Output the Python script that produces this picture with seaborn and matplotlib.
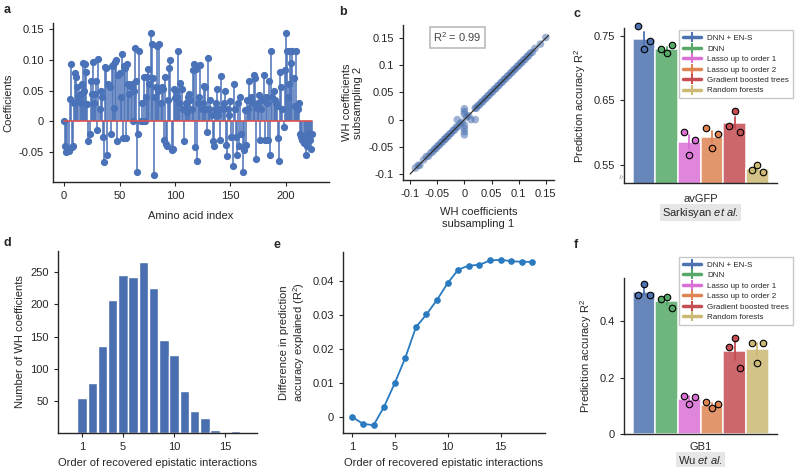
import matplotlib
matplotlib.use("Agg")
import matplotlib.pyplot as plt
from matplotlib.lines import Line2D
import numpy as np
import pandas as pd
import seaborn as sns

# ---------------- data ----------------
# a: first-order WH coefficients per amino acid
aa_index = list(range(0, 225))
coef = [
    0, -0.04, -0.05, -0.045, -0.048, 0.037, 0.093, -0.042, -0.041, 0.03,
    0.078, 0.072, 0.055, 0.04, 0.045, 0.03, 0.06, 0.095, 0.05, 0.094,
    0.08, 0.028, -0.033, -0.02, 0.065, 0.045, 0.097, 0.03, 0.045, 0.065,
    -0.014, 0.101, 0.02, 0.05, 0.04, -0.025, -0.067, 0.088, 0.086, -0.055,
    0.06, 0.055, -0.02, 0.09, 0.092, 0.022, 0.097, 0.1, -0.033, 0.075,
    0.078, 0.04, 0.11, -0.027, 0.09, 0.087, -0.028, 0.093, 0.06, 0.045,
    0.055, 0.06, 0, 0.05, 0.12, 0.065, -0.082, -0.02, 0.115, 0,
    0.03, 0, 0.072, 0, 0.04, 0.072, 0.085, 0.06, 0.143, 0.125,
    0.07, -0.087, 0.04, 0.055, 0.122, 0.05, 0.125, 0.03, 0.055, 0.053,
    -0.03, 0.072, -0.037, -0.04, 0.035, 0.087, 0.1, -0.047, -0.045, 0.053,
    0.038, 0.05, 0.04, 0.115, 0.03, 0.063, 0.052, 0.02, -0.033, 0.02,
    0.03, 0.015, 0.04, 0.045, 0.035, 0.02, 0.083, 0.094, -0.042, 0.085,
    -0.065, 0.03, 0.04, 0.092, 0.02, 0.03, 0.058, 0.055, 0.02, -0.017,
    0.103, 0.02, 0.035, 0.01, -0.033, -0.04, 0.02, 0.03, 0.053, 0.01,
    0.02, -0.03, 0.073, 0.02, 0.03, 0.05, -0.038, -0.057, 0.02, 0.01,
    0.033, -0.025, -0.073, 0.06, 0.02, -0.025, -0.055, 0.03, -0.04, 0.04,
    -0.02, -0.083, -0.047, 0.018, -0.038, 0.035, 0.02, 0.065, 0.035, 0.04,
    0.03, 0.075, 0.07, -0.062, 0.022, 0.03, 0.043, -0.03, 0.02, 0.035,
    0.075, -0.03, 0.04, 0.03, -0.03, 0.065, -0.055, 0.115, 0.04, 0.05,
    0.035, 0.03, 0.025, -0.028, -0.065, 0.08, 0.055, 0.02, -0.01, 0.083,
    0.143, 0.115, 0.04, 0.06, 0.115, 0.095, 0.115, 0.07, 0.025, 0.115,
    0.025, 0.02, 0.03, -0.02, -0.025, -0.03, -0.035, -0.03, -0.055, -0.04,
    -0.02, -0.025, -0.03, -0.045, -0.02,
]

# b: WH coefficients from two subsamplings
wh_sub1 = [-0.09, -0.085, -0.082, -0.075, -0.07, -0.066, -0.062, -0.058, -0.055, -0.052,
           -0.049, -0.046, -0.043, -0.04, -0.037, -0.035, -0.032, -0.03, -0.027, -0.024,
           -0.021, -0.018, -0.015, -0.012, -0.008, -0.004, 0.004, 0.008,
           0.0, 0.0, 0.0, 0.0, 0.0, 0.0, 0.0, -0.013, 0.012, 0.02,
           0.02, 0.022, 0.025, 0.028, 0.031, 0.034, 0.037, 0.04, 0.043, 0.046,
           0.049, 0.052, 0.055, 0.058, 0.061, 0.064, 0.067, 0.07, 0.073, 0.076,
           0.079, 0.082, 0.085, 0.088, 0.091, 0.094, 0.097, 0.1, 0.103, 0.106,
           0.109, 0.112, 0.115, 0.118, 0.121, 0.125, 0.13, 0.14, 0.15]
wh_sub2 = [-0.089, -0.084, -0.084, -0.074, -0.068, -0.067, -0.061, -0.059, -0.054, -0.053,
           -0.048, -0.047, -0.042, -0.041, -0.036, -0.036, -0.031, -0.031, -0.026, -0.025,
           -0.02, -0.019, -0.014, -0.013, -0.007, -0.005, 0.005, 0.007,
           0.02, 0.015, 0.01, -0.01, -0.016, -0.022, -0.028, 0.0, 0.0, 0.0,
           0.021, 0.021, 0.026, 0.027, 0.032, 0.033, 0.038, 0.039, 0.044, 0.045,
           0.05, 0.051, 0.056, 0.057, 0.062, 0.063, 0.068, 0.069, 0.074, 0.075,
           0.08, 0.081, 0.086, 0.087, 0.092, 0.093, 0.098, 0.099, 0.104, 0.105,
           0.11, 0.111, 0.116, 0.117, 0.122, 0.124, 0.131, 0.139, 0.151]

# c / f: prediction accuracy, three replicates per model (left to right)
models = ["DNN + EN-S", "DNN", "Lasso up to order 1", "Lasso up to order 2",
          "Gradient boosted trees", "Random forests"]
avgfp_r2 = [
    [0.765, 0.730, 0.742],
    [0.730, 0.723, 0.735],
    [0.602, 0.566, 0.589],
    [0.608, 0.577, 0.598],
    [0.610, 0.633, 0.602],
    [0.543, 0.551, 0.539],
]
gb1_r2 = [
    [0.491, 0.532, 0.491],
    [0.479, 0.487, 0.447],
    [0.135, 0.108, 0.132],
    [0.112, 0.091, 0.108],
    [0.308, 0.341, 0.234],
    [0.322, 0.253, 0.324],
]

# d: number of WH coefficients per epistatic order
order_d = list(range(1, 18))
n_coef = [55, 78, 135, 207, 245, 243, 266, 226, 144, 122, 66, 34, 23, 5, 1.5, 3, 1.5]

# e: difference in prediction accuracy by order
order_e = list(range(1, 19))
diff_r2 = [0.0, -0.0020, -0.0024, 0.0031, 0.0100, 0.0175, 0.0265, 0.0303, 0.0346,
           0.0395, 0.0435, 0.0447, 0.0449, 0.0462, 0.0464, 0.0460, 0.0458, 0.0458]

# ---------------- style ----------------
sns.set_style("ticks")
plt.rcParams["font.family"] = ["Liberation Sans", "DejaVu Sans"]
plt.rcParams["axes.unicode_minus"] = False
plt.rcParams["mathtext.fontset"] = "custom"
plt.rcParams["mathtext.rm"] = "Liberation Sans"
plt.rcParams["mathtext.it"] = "Liberation Sans:italic"
plt.rcParams["axes.linewidth"] = 1.0
plt.rcParams["xtick.major.size"] = 3
plt.rcParams["ytick.major.size"] = 3

FS = 8
deep = ["#4c72b0", "#55a868", "#da70d6", "#dd8452", "#c44e52", "#ccb974"]
W, H = 799, 469


def box(l, r, t, b):
    return [l / W, 1 - b / H, (r - l) / W, (b - t) / H]


def fmt(vals):
    return [f"{v:g}" for v in vals]


fig = plt.figure(figsize=(W / 100, H / 100), dpi=100)

# ---------------- a: stem plot ----------------
ax_a = fig.add_axes(box(53, 329, 23, 182))
ml, sl, bl = ax_a.stem(aa_index, coef, linefmt="-", markerfmt="o", basefmt="-")
plt.setp(sl, color="#4a72b8", linewidth=1.1)
plt.setp(ml, color="#4a72b8", markersize=4.2)
plt.setp(bl, color="#d9534f", linewidth=1.2)
ax_a.set_xlim(-10, 239)
ax_a.set_ylim(-0.099, 0.16)
ax_a.set_xticks([0, 50, 100, 150, 200])
ax_a.set_yticks([-0.05, 0, 0.05, 0.10, 0.15])
ax_a.set_yticklabels(["-0.05", "0", "0.05", "0.10", "0.15"])
ax_a.set_xlabel("Amino acid index", fontsize=FS, labelpad=7)
ax_a.set_ylabel("Coefficients", fontsize=FS)
ax_a.tick_params(labelsize=FS)
sns.despine(ax=ax_a)

# ---------------- b: scatter ----------------
ax_b = fig.add_axes(box(403, 554, 25, 180))
ax_b.plot([-0.1, 0.155], [-0.1, 0.155], color="#333333", linewidth=0.9, zorder=3)
sns.scatterplot(x=wh_sub1, y=wh_sub2, color="#4c72b0", alpha=0.55, s=30,
                edgecolor="none", ax=ax_b, zorder=2)
ax_b.set_xlim(-0.113, 0.165)
ax_b.set_ylim(-0.111, 0.174)
ticks_b = [-0.1, -0.05, 0, 0.05, 0.1, 0.15]
ax_b.set_xticks(ticks_b)
ax_b.set_xticklabels(fmt(ticks_b))
ax_b.set_yticks(ticks_b)
ax_b.set_yticklabels(fmt(ticks_b))
ax_b.tick_params(labelsize=FS)
ax_b.set_xlabel("WH coefficients\nsubsampling 1", fontsize=FS, labelpad=6)
ax_b.set_ylabel("WH coefficients\nsubsampling 2", fontsize=FS)
ax_b.text(0.2, 0.92, "R$^2$ = 0.99", transform=ax_b.transAxes, fontsize=FS,
          va="center", ha="left", color="#444444",
          bbox=dict(facecolor="white", edgecolor="#bbbbbb", linewidth=1.2, pad=2.5))
sns.despine(ax=ax_b)


# ---------------- c / f: model bars ----------------
def model_bars(ax, reps, dataset, ref, ylim, yticks, legend_anchor):
    rows = []
    for m, vals in zip(models, reps):
        for v in vals:
            rows.append({"dataset": dataset, "model": m, "r2": v})
    df = pd.DataFrame(rows)
    sns.barplot(data=df, x="dataset", y="r2", hue="model", hue_order=models,
                palette=deep, saturation=1, alpha=0.85, errorbar="se",
                edgecolor="white", linewidth=1.2, err_kws={"linewidth": 1.3},
                legend=False, ax=ax)
    for ln, c in zip(ax.lines, deep):
        ln.set_color(c)
    offsets = [-0.25, 0.0, 0.25]
    for bar, vals, c in zip(ax.patches, reps, deep):
        cx = bar.get_x() + bar.get_width() / 2
        w = bar.get_width()
        ax.scatter([cx + o * w for o in offsets], vals, s=22, color=c,
                   edgecolor="black", linewidth=0.8, zorder=5, clip_on=False)
    ax.set_xlim(-0.45, 0.45)
    ax.set_ylim(*ylim)
    ax.set_yticks(yticks)
    ax.set_yticklabels(fmt(yticks))
    ax.tick_params(axis="x", length=0, labelsize=FS, pad=8)
    ax.tick_params(axis="y", labelsize=FS)
    ax.set_xlabel(ref, fontsize=FS, labelpad=1,
                  bbox=dict(facecolor="#e6e6e6", edgecolor="none", pad=1.2))
    ax.set_ylabel("Prediction accuracy R$^2$", fontsize=FS)
    handles = [Line2D([], [], color=c, linewidth=2.5, marker="|", markersize=7,
                      markeredgewidth=1.5) for c in deep]
    leg = ax.legend(handles, models, loc="upper right", bbox_to_anchor=legend_anchor,
                    fontsize=5.8, frameon=True, fancybox=False, handlelength=2.2,
                    borderpad=0.5, labelspacing=0.35, handletextpad=0.8)
    leg.get_frame().set_edgecolor("#bbbbbb")
    leg.get_frame().set_linewidth(1.0)
    sns.despine(ax=ax)


ax_c = fig.add_axes(box(624, 777, 28, 183))
model_bars(ax_c, avgfp_r2, "avGFP", r"Sarkisyan $\mathit{et\ al.}$",
           (0.5225, 0.762), [0.55, 0.65, 0.75], (1.13, 1.01))
ax_c.text(-0.012, 0.04, "\u2248", transform=ax_c.transAxes, fontsize=6,
          color="#888888", rotation=70, ha="center", va="center")

ax_f = fig.add_axes(box(624, 777, 278, 434))
model_bars(ax_f, gb1_r2, "GB1", r"Wu $\mathit{et\ al.}$",
           (0, 0.553), [0, 0.2, 0.4], (1.13, 1.16))
ax_f.tick_params(axis="x", pad=6)

# ---------------- d: histogram ----------------
ax_d = fig.add_axes(box(58, 257, 251, 433))
sns.barplot(x=order_d, y=n_coef, native_scale=True, color="#4a6fb0", saturation=1,
            edgecolor="white", linewidth=1.0, width=0.92, ax=ax_d)
ax_d.set_xlim(-1.35, 18.1)
ax_d.set_ylim(0, 283)
ax_d.set_xticks([1, 5, 10, 15])
ax_d.set_yticks([50, 100, 150, 200, 250])
ax_d.tick_params(labelsize=FS)
ax_d.set_xlabel("Order of recovered epistatic interactions", fontsize=FS)
ax_d.set_ylabel("Number of WH coefficients", fontsize=FS)
sns.despine(ax=ax_d)

# ---------------- e: line ----------------
ax_e = fig.add_axes(box(343, 545, 252, 433))
sns.lineplot(x=order_e, y=diff_r2, marker="o", markersize=4, color="#2a7abf",
             markeredgecolor="#2a7abf", linewidth=1.3, ax=ax_e)
ax_e.set_xlim(0.11, 19.2)
ax_e.set_ylim(-0.0047, 0.0487)
ax_e.set_xticks([1, 5, 10, 15])
yt_e = [0, 0.01, 0.02, 0.03, 0.04]
ax_e.set_yticks(yt_e)
ax_e.set_yticklabels(["0", "0.01", "0.02", "0.03", "0.04"])
ax_e.tick_params(labelsize=FS)
ax_e.set_xlabel("Order of recovered epistatic interactions", fontsize=FS)
ax_e.set_ylabel("Difference in prediction\naccuracy explained (R$^2$)", fontsize=FS)
sns.despine(ax=ax_e)

# ---------------- panel letters ----------------
for lab, x, y in [("a", 4, 10), ("b", 339, 12), ("c", 573, 14),
                  ("d", 4, 243), ("e", 273, 245), ("f", 574, 245)]:
    fig.text(x / W, 1 - y / H, lab, fontsize=9, fontweight="bold",
             ha="left", va="center")

fig.savefig("out.png", dpi=100)
